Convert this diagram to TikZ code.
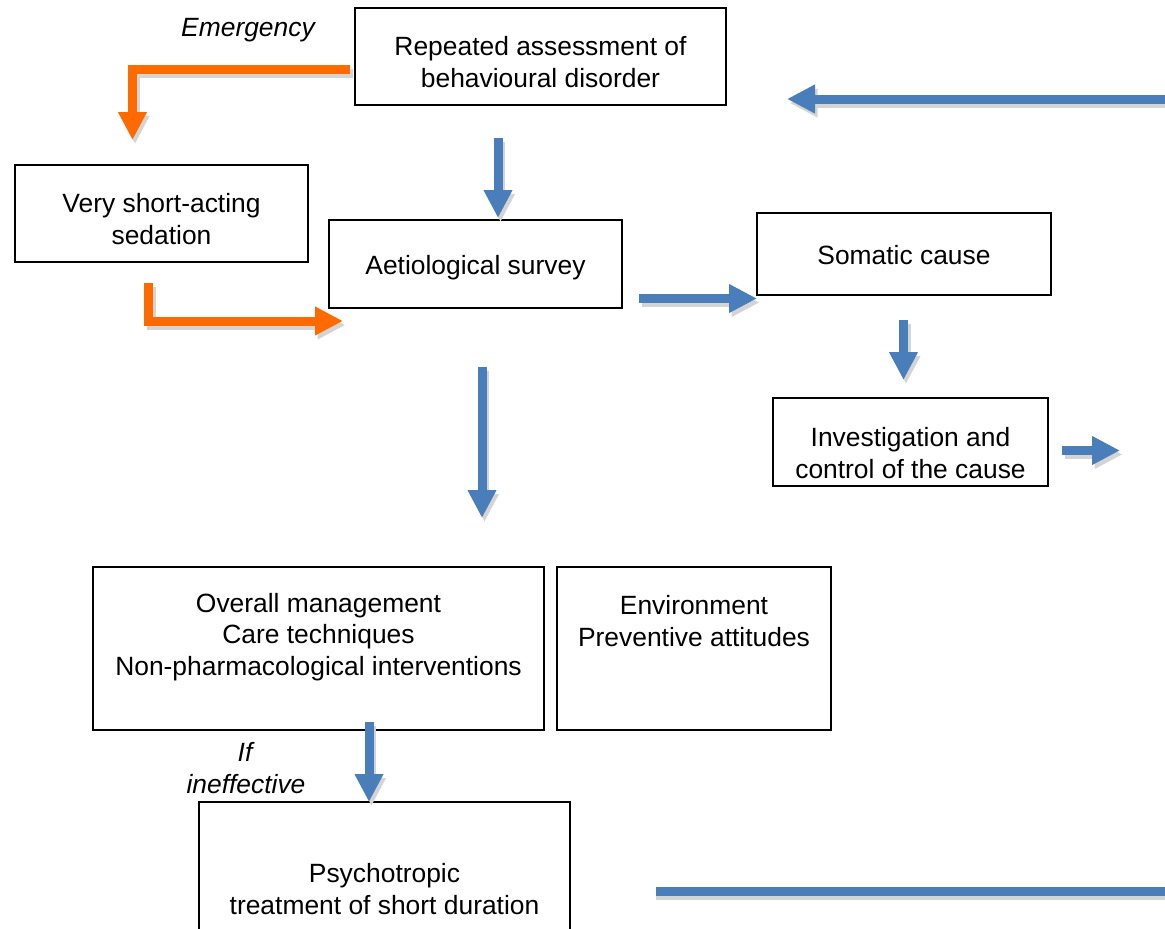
\documentclass[tikz,border=0pt]{standalone}
\usepackage{fontspec}
\setmainfont{Liberation Sans}
\usetikzlibrary{arrows.meta}
\definecolor{arrowblue}{HTML}{4A7EBB}
\definecolor{arroworange}{HTML}{FF6A00}
\definecolor{shadowgray}{HTML}{D4D4D4}
\newcommand\fatarrow[2]{%
  \draw[fat, draw=shadowgray, transform canvas={shift={(2.5pt,-4pt)}}] #2;
  \draw[fat, draw=#1] #2;}
\tikzset{
  box/.style={draw, line width=1.6pt, inner sep=0pt},
  txt/.style={font=\fontsize{26.4}{31.7}\selectfont, align=center, inner sep=0pt},
  itxt/.style={txt, font=\fontsize{26.4}{31.7}\selectfont\itshape},
  fat/.style={line width=9pt, line join=miter, -{Triangle[width=27pt,length=28pt]}},
  fatline/.style={line width=9pt},
}
\begin{document}
\begin{tikzpicture}[x=1pt,y=-1pt]
\useasboundingbox (0,0) rectangle (1165,929);
\clip (0,0) rectangle (1165,929);
% boxes
\node[box, minimum width=371pt, minimum height=97pt] (rep) at (540.5,56.5) {};
\node[txt] (repT) at (540.5,62) {Repeated assessment of\\behavioural disorder};
\node[box, minimum width=293pt, minimum height=97pt] (sed) at (161.5,213.5) {};
\node[txt] (sedT) at (161.5,219) {Very short-acting\\sedation};
\node[box, minimum width=293pt, minimum height=88pt] (aet) at (475.5,264) {};
\node[txt] (aetT) at (475.5,268) {Aetiological survey};
\node[box, minimum width=294pt, minimum height=82pt] (som) at (904,254) {};
\node[txt] (somT) at (904,255) {Somatic cause};
\node[box, minimum width=275pt, minimum height=88pt] (inv) at (910.5,442) {};
\node[txt] (invT) at (910.5,453) {Investigation and\\control of the cause};
\node[box, minimum width=451pt, minimum height=163pt] (ovr) at (318.5,648.5) {};
\node[txt] (ovrT) at (318.5,637) {Overall management\\Care techniques\\Non-pharmacological interventions};
\node[box, minimum width=274pt, minimum height=163pt] (env) at (694,648.5) {};
\node[txt] (envT) at (694,621) {Environment\\Preventive attitudes};
\node[box, minimum width=371pt, minimum height=150pt] (psy) at (384.5,877) {};
\node[txt] (psyT) at (384.5,889) {Psychotropic\\treatment of short duration};
% labels
\node[itxt] (emg) at (248,30) {Emergency};
\node[itxt] (ifl) at (245,752) {If};
\node[itxt] (ine) at (246,784) {ineffective};
% arrow end points
\coordinate (o1s) at (350,69);
\coordinate (o1e) at (132.5,140);
\coordinate (o2s) at (148.5,283);
\coordinate (o2e) at (343,321);
\coordinate (b1s) at (498,138);
\coordinate (b1e) at (498,218);
\coordinate (b2s) at (639,298.5);
\coordinate (b2e) at (757,298.5);
\coordinate (b3s) at (1170,99);
\coordinate (b3e) at (787,99);
\coordinate (b4s) at (903.5,320);
\coordinate (b4e) at (903.5,380);
\coordinate (b5s) at (1062,450.5);
\coordinate (b5e) at (1120,450.5);
\coordinate (b6s) at (482,367);
\coordinate (b6e) at (482,518);
\coordinate (b7s) at (369,722);
\coordinate (b7e) at (369,802);
\coordinate (b8s) at (656,891.5);
\coordinate (b8e) at (1170,891.5);
% arrows
\fatarrow{arroworange}{(o1s) -| (o1e)}
\fatarrow{arroworange}{(o2s) |- (o2e)}
\fatarrow{arrowblue}{(b1s) -- (b1e)}
\fatarrow{arrowblue}{(b2s) -- (b2e)}
\fatarrow{arrowblue}{(b3s) -- (b3e)}
\fatarrow{arrowblue}{(b4s) -- (b4e)}
\fatarrow{arrowblue}{(b5s) -- (b5e)}
\fatarrow{arrowblue}{(b6s) -- (b6e)}
\fatarrow{arrowblue}{(b7s) -- (b7e)}
\draw[fatline, shadowgray, transform canvas={shift={(0pt,-4pt)}}] (b8s) -- (b8e);
\draw[fatline, arrowblue] (b8s) -- (b8e);
\end{tikzpicture}
\end{document}
